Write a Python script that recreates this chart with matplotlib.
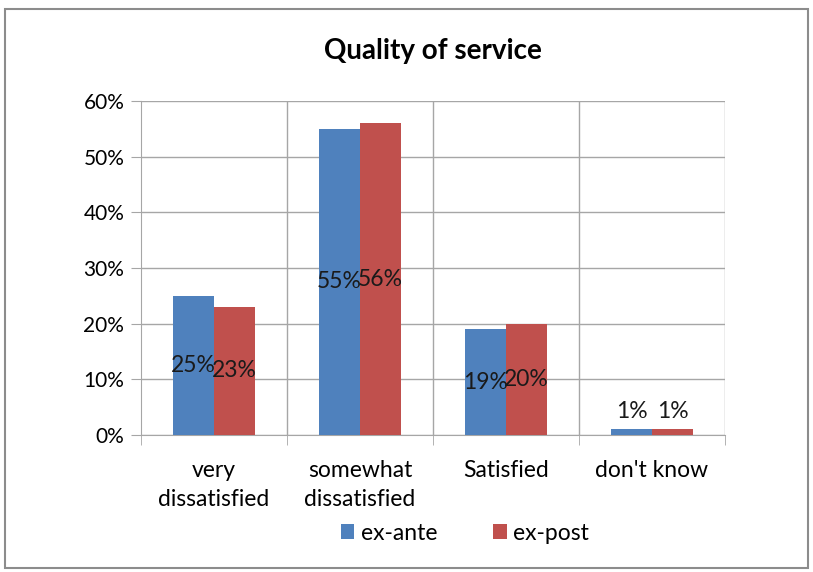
import numpy as np
import matplotlib.pyplot as plt
from matplotlib.patches import Rectangle

categories = ["very\ndissatisfied", "somewhat\ndissatisfied", "Satisfied", "don't know"]
ex_ante = [25, 55, 19, 1]
ex_post = [23, 56, 20, 1]
series_names = ["ex-ante", "ex-post"]
colors = ["#4F81BD", "#C0504D"]
yticks = [0, 10, 20, 30, 40, 50, 60]

plt.rcParams["font.family"] = ["Lato", "DejaVu Sans"]

fig = plt.figure(figsize=(8.13, 5.72), dpi=100)
ax = fig.add_axes([0.1734, 0.2395, 0.7184, 0.5839])

# grey frame round the whole chart
fig.patches.append(Rectangle((0.006, 0.007), 0.988, 0.978, transform=fig.transFigure,
                             fill=False, edgecolor="#8c8c8c", linewidth=1.5))

x = np.arange(len(categories))
w = 0.28
for i, (vals, name, c) in enumerate(zip([ex_ante, ex_post], series_names, colors)):
    pos = x + (i - 0.5) * w
    ax.bar(pos, vals, width=w, color=c, label=name, zorder=3)
    for p, v in zip(pos, vals):
        if v < 5:
            ax.text(p, v + 1.3, f"{v}%", ha="center", va="bottom", fontsize=16.5, color="#1a1a1a", zorder=4)
        else:
            ax.text(p, v / 2, f"{v}%", ha="center", va="center", fontsize=16.5, color="#1a1a1a", zorder=4)

ax.set_xlim(-0.5, len(categories) - 0.5)
ax.set_ylim(0, 60)
ax.set_yticks(yticks)
ax.set_yticklabels([f"{t}%" for t in yticks], fontsize=15)
ax.yaxis.grid(True, color="#a6a6a6", linewidth=1, zorder=0)

# category boundaries as vertical gridlines and tick marks
bounds = np.arange(len(categories) + 1) - 0.5
for b in bounds[1:]:
    ax.axvline(b, color="#a6a6a6", linewidth=1, zorder=0)
ax.set_xticks(bounds, minor=True)
ax.set_xticks(x)
ax.set_xticklabels(categories, fontsize=16.5, linespacing=1.45)
ax.tick_params(axis="x", which="major", length=0, pad=18)
ax.tick_params(axis="x", which="minor", length=7, color="#a6a6a6")
ax.tick_params(axis="y", length=7, color="#a6a6a6", pad=5)

for side in ["top", "right"]:
    ax.spines[side].set_visible(False)
for side in ["left", "bottom"]:
    ax.spines[side].set_color("#a6a6a6")

ax.set_title("Quality of service", fontsize=20, fontweight="bold", pad=30)

fig.legend(loc="center", bbox_to_anchor=(0.572, 0.068), ncol=2, frameon=False,
           fontsize=16.5, handlelength=0.6, handleheight=0.6, handletextpad=0.3,
           columnspacing=2.4)

fig.savefig("out.png", dpi=100)
